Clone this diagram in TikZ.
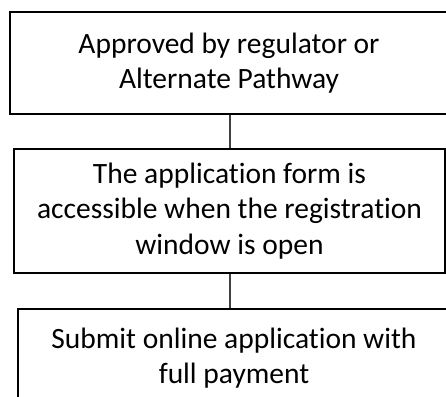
\documentclass[tikz,border=0pt]{standalone}
\usepackage{fontspec}
\setmainfont[Ligatures=NoCommon]{Carlito}
\begin{document}
\begin{tikzpicture}[x=1pt,y=-1pt,
  stepbox/.style={draw=black,line width=2pt,fill=white,align=center,
    font=\fontsize{29.5}{35.5}\selectfont,inner sep=0pt},
  link/.style={draw=black!75,line width=1.3pt}]
\useasboundingbox (0,0) rectangle (446,396);
\clip (0,0) rectangle (446,396);
\node[stepbox,minimum width=438pt,minimum height=102pt] (b1) at (229,63)
  {Approved by regulator or\\Alternate Pathway};
\node[stepbox,minimum width=431pt,minimum height=124pt] (b2) at (229.5,211)
  {The application form is\\accessible when the registration\\window is open};
\node[stepbox,minimum width=432pt,minimum height=98pt] (b3) at (234,358)
  {Submit online application with\\full payment};
\draw[link] (b1.south -| 230,0) -- (b2.north -| 230,0);
\draw[link] (b2.south -| 230,0) -- (b3.north -| 230,0);
\end{tikzpicture}
\end{document}
